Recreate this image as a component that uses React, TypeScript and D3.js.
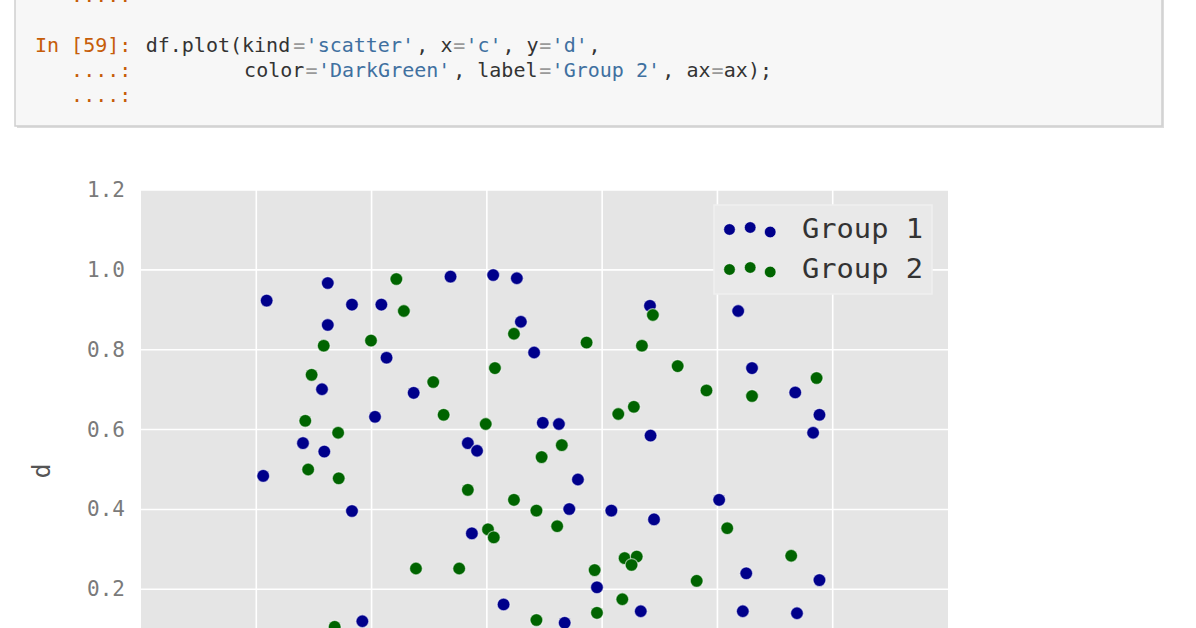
import React from "react";
import * as d3 from "d3";

// ---- data ----
const group1X = [0.018, 0.124, 0.337, 0.411, 0.452, 0.166, 0.217, 0.124, 0.459, 0.226, 0.482, 0.114, 0.273, 0.683, 0.836, 0.860, 0.935, 0.206, 0.497, 0.525, 0.977, 0.966, 0.684, 0.081, 0.118, 0.367, 0.383, 0.012, 0.558, 0.166, 0.543, 0.616, 0.690, 0.803, 0.374, 0.850, 0.977, 0.591, 0.429, 0.667, 0.844, 0.938, 0.535, 0.184];
const group1Y = [0.923, 0.967, 0.983, 0.987, 0.979, 0.913, 0.913, 0.862, 0.870, 0.780, 0.793, 0.701, 0.692, 0.910, 0.897, 0.754, 0.693, 0.632, 0.617, 0.614, 0.637, 0.592, 0.585, 0.566, 0.545, 0.566, 0.547, 0.484, 0.475, 0.396, 0.401, 0.397, 0.375, 0.424, 0.340, 0.240, 0.223, 0.205, 0.162, 0.145, 0.145, 0.140, 0.116, 0.120];
const group2X = [0.243, 0.256, 0.117, 0.199, 0.447, 0.096, 0.307, 0.414, 0.573, 0.688, 0.669, 0.731, 0.972, 0.781, 0.860, 0.085, 0.325, 0.398, 0.142, 0.628, 0.655, 0.530, 0.495, 0.090, 0.143, 0.367, 0.447, 0.486, 0.522, 0.402, 0.412, 0.817, 0.277, 0.352, 0.639, 0.660, 0.651, 0.928, 0.587, 0.764, 0.635, 0.591, 0.486, 0.136];
const group2Y = [0.977, 0.897, 0.810, 0.823, 0.840, 0.737, 0.719, 0.754, 0.818, 0.887, 0.810, 0.759, 0.729, 0.698, 0.684, 0.622, 0.637, 0.614, 0.592, 0.639, 0.657, 0.561, 0.531, 0.500, 0.478, 0.449, 0.424, 0.397, 0.358, 0.350, 0.330, 0.353, 0.252, 0.252, 0.278, 0.282, 0.261, 0.284, 0.248, 0.221, 0.175, 0.141, 0.123, 0.106];
const seriesNames = ["Group 1", "Group 2"];
const seriesColors = ["#00008B", "#006400"];
const yGridValues = [-0.2, 0.0, 0.2, 0.4, 0.6, 0.8, 1.0, 1.2];
const yTickLabels = [0.2, 0.4, 0.6, 0.8, 1.0, 1.2];
const xGridValues = [0.0, 0.2, 0.4, 0.6, 0.8, 1.0];
const axisLabelY = "d";

// code cell text tokens: [text, kind]
type Tok = [string, string];
const codeLines: { base: number; toks: Tok[] }[] = [
  { base: 2, toks: [["   ....:", "p"]] },
  {
    base: 52,
    toks: [
      ["In [59]:", "p"], [" ", "t"], ["df.plot(kind", "t"], ["=", "o"], ["'scatter'", "s"],
      [", x", "t"], ["=", "o"], ["'c'", "s"], [", y", "t"], ["=", "o"], ["'d'", "s"], [",", "t"],
    ],
  },
  {
    base: 77,
    toks: [
      ["   ....:", "p"], ["         ", "t"], ["color", "t"], ["=", "o"], ["'DarkGreen'", "s"],
      [", label", "t"], ["=", "o"], ["'Group 2'", "s"], [", ax", "t"], ["=", "o"], ["ax);", "t"],
    ],
  },
  { base: 102, toks: [["   ....:", "p"]] },
];
const tokColors: Record<string, string> = { p: "#c65d09", t: "#333333", o: "#9a9a9a", s: "#4070a0" };

const MONO = "'DejaVu Sans Mono', 'Liberation Mono', monospace";

export default function App() {
  const W = 1196, H = 628;
  const left = 141, right = 948, top = 190, bottom = 749;
  const x = d3.scaleLinear().domain([-0.2, 1.2]).range([left, right]);
  const y = d3.scaleLinear().domain([-0.2, 1.2]).range([bottom, top]);
  const fmt = d3.format(".1f");

  const groups = [
    group1X.map((v, i) => [v, group1Y[i]]),
    group2X.map((v, i) => [v, group2Y[i]]),
  ];

  const charW = 12.3;
  const codeX0 = 35;

  // legend marker offsets (scatterpoints = 3)
  const legendDx = [0, 20.7, 40.7];
  const legendDy = [1.5, -0.5, 4];

  return (
    <div style={{ position: "absolute", left: 0, top: 0 }}>
      <svg width={W} height={H} style={{ display: "block", background: "#ffffff" }}>
        {/* code cell */}
        <rect x={17} y={-10} width={1147} height={138} fill="#dcdcdc" />
        <rect x={15} y={-12} width={1147} height={138} fill="#f7f7f7" stroke="#cfcfcf" strokeWidth={1.5} />
        {codeLines.map((ln, li) => {
          let col = 0;
          return (
            <g key={li}>
              {ln.toks.map(([t, k], ti) => {
                const el = (
                  <text
                    key={ti}
                    x={codeX0 + col * charW}
                    y={ln.base}
                    fontFamily={MONO}
                    fontSize={20}
                    fill={tokColors[k]}
                    xmlSpace="preserve"
                    style={{ whiteSpace: "pre" }}
                  >
                    {t}
                  </text>
                );
                col += t.length;
                return el;
              })}
            </g>
          );
        })}

        {/* plot background */}
        <rect x={left} y={top} width={right - left} height={bottom - top} fill="#e5e5e5" />
        {/* grid */}
        {yGridValues.map((v) => (
          <line key={"gy" + v} x1={left} x2={right} y1={y(v)} y2={y(v)} stroke="#ffffff" strokeWidth={1.6} />
        ))}
        {xGridValues.map((v) => (
          <line key={"gx" + v} x1={x(v)} x2={x(v)} y1={top} y2={bottom} stroke="#ffffff" strokeWidth={1.6} />
        ))}

        {/* y tick labels (only those inside the visible page) */}
        {yTickLabels.map((v) => (
          <text
            key={"ty" + v}
            x={125}
            y={y(v)}
            textAnchor="end"
            dominantBaseline="central"
            fontFamily={MONO}
            fontSize={21}
            fill="#7a7a7a"
          >
            {fmt(v)}
          </text>
        ))}
        {/* y axis label */}
        <text
          transform={`translate(${50},${471}) rotate(-90)`}
          textAnchor="middle"
          fontFamily={MONO}
          fontSize={25}
          fill="#555555"
        >
          {axisLabelY}
        </text>

        {/* points */}
        {groups.map((pts, gi) => (
          <g key={"g" + gi}>
            {pts.map(([px, py], i) => (
              <circle
                key={i}
                cx={x(px)}
                cy={y(py)}
                r={6.4}
                fill={seriesColors[gi]}
                stroke="rgba(255,255,255,0.55)"
                strokeWidth={1.2}
              />
            ))}
          </g>
        ))}

        {/* legend */}
        <rect x={714} y={205} width={218} height={89} fill="#e9e9e9" stroke="#efefef" strokeWidth={1.5} />
        {seriesNames.map((name, gi) => {
          const cy = 228 + gi * 40;
          return (
            <g key={"lg" + gi}>
              {legendDx.map((dx, k) => (
                <circle
                  key={k}
                  cx={729.5 + dx}
                  cy={cy + legendDy[k]}
                  r={5.8}
                  fill={seriesColors[gi]}
                  stroke="rgba(255,255,255,0.55)"
                  strokeWidth={1}
                />
              ))}
              <text
                x={802}
                y={cy + 10}
                fontFamily={MONO}
                fontSize={27}
                textLength={121}
                lengthAdjust="spacingAndGlyphs"
                fill="#333333"
                xmlSpace="preserve"
                style={{ whiteSpace: "pre" }}
              >
                {name}
              </text>
            </g>
          );
        })}
      </svg>
    </div>
  );
}
